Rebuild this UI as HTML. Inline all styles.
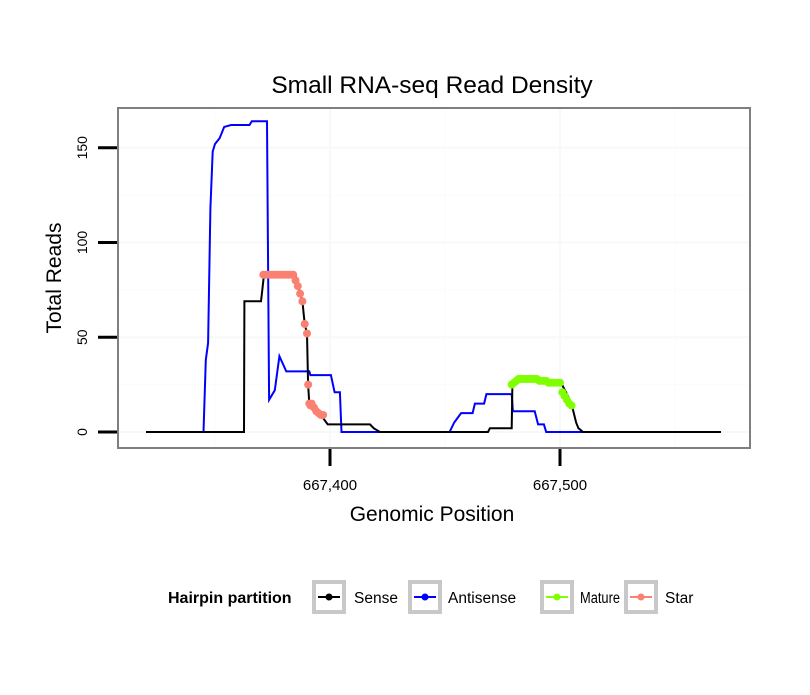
<!DOCTYPE html>
<html><head><meta charset="utf-8"><style>
body{margin:0;background:#fff;}
svg{font-family:"Liberation Sans",Arial,sans-serif;}
</style></head><body>
<svg id="chart" width="810" height="690" viewBox="0 0 810 690">
<text x="432" y="93" text-anchor="middle" font-size="24.5">Small RNA-seq Read Density</text>
<rect x="118" y="108" width="632" height="340" fill="#fff" stroke="#7f7f7f" stroke-width="2"/>
<g id="grid"></g>
<g id="series"></g>
<g id="axes"></g>
<text x="432" y="521" text-anchor="middle" font-size="21">Genomic Position</text>
<text transform="translate(61,278) rotate(-90)" text-anchor="middle" font-size="21">Total Reads</text>
<g>
<text x="168" y="603" font-size="16" font-weight="bold">Hairpin partition</text>
<g><rect x="314" y="582" width="30" height="30" fill="#fff" stroke="#c8c8c8" stroke-width="4"/><line x1="318" y1="597" x2="340" y2="597" stroke="#000" stroke-width="2"/><circle cx="329" cy="597" r="3.5" fill="#000"/><text x="354" y="603" font-size="15.5">Sense</text></g>
<g><rect x="410" y="582" width="30" height="30" fill="#fff" stroke="#c8c8c8" stroke-width="4"/><line x1="414" y1="597" x2="436" y2="597" stroke="#0000ff" stroke-width="2"/><circle cx="425" cy="597" r="3.5" fill="#0000ff"/><text x="448" y="603" font-size="15.5">Antisense</text></g>
<g><rect x="542" y="582" width="30" height="30" fill="#fff" stroke="#c8c8c8" stroke-width="4"/><line x1="546" y1="597" x2="568" y2="597" stroke="#7fff00" stroke-width="2"/><circle cx="557" cy="597" r="3.5" fill="#7fff00"/><text x="580" y="603" font-size="15.5" textLength="40" lengthAdjust="spacingAndGlyphs">Mature</text></g>
<g><rect x="626" y="582" width="30" height="30" fill="#fff" stroke="#c8c8c8" stroke-width="4"/><line x1="630" y1="597" x2="652" y2="597" stroke="#fa8072" stroke-width="2"/><circle cx="641" cy="597" r="3.5" fill="#fa8072"/><text x="665" y="603" font-size="15.5">Star</text></g>
</g>
</svg>
<script>
const BASE = 667400;
const senseX = [-80,-37.4,-37.2,-30,-29.5,-28.7,-15,-13,-12,-11,-10,-9.5,-9,-8,-7,-6,-4,-1,17.4,19,21.7,68.7,69.5,79,79.3,80,90,100,103,105,106,107,108,110,170];
const senseY = [0,0,69,69,74,83,83,73,69,57,52,25,15,15,13,11,9,4,4,2,0,0,2,2,25,26,28,27,20,15,10,5,2,0,0];
const antiX = [-80,-55,-54,-53,-52,-51,-50,-48,-46,-43,-35,-34,-27.4,-26.5,-24,-22,-19,-9,-8.5,0.4,2,4.3,5,52,54,57,62,63,67,68,79,79.5,89,90.5,93,94,110];
const antiY = [0,0,38,47,118,148,152,155,161,162,162,164,164,17,22,40,32,32,30,30,21,21,0,0,5,10,10,15,15,20,20,11,11,4,4,0,0];
const matureX = [79,80,81,82,83,84,85,86,87,88,89,90,91,92,93,94,95,96,97,98,99,100,101,102,103,104,105];
const matureY = [25,26,27,28,28,28,28,28,28,28,28,28,27,27,27,27,26,26,26,26,26,26,21,19,17,15,14];
const starX = [-29,-28,-27,-26,-25,-24,-23,-22,-21,-20,-19,-18,-17,-16,-15,-14,-13,-12,-11,-10,-9.5,-9,-8.5,-8,-7,-6,-5,-4,-3];
const starY = [83,83,83,83,83,83,83,83,83,83,83,83,83,83,80,77,73,69,57,52,25,15,14,15,13,11,10,9,9];
const yTicks = [0,50,100,150];
const xTicks = [667400,667500];
const xTickLabels = ["667,400","667,500"];

const NS="http://www.w3.org/2000/svg";
const sx = p => 330 + p*2.3;
const sxAbs = g => sx(g-BASE);
const sy = v => 432 - v*1.895;
function mk(tag, attrs, parent){const e=document.createElementNS(NS,tag);for(const k in attrs)e.setAttribute(k,attrs[k]);parent.appendChild(e);return e;}
const grid=document.getElementById('grid'), series=document.getElementById('series'), axes=document.getElementById('axes');
[25,75,125].forEach(v=>{const l=mk('line',{x1:119,x2:749,y1:sy(v),y2:sy(v),stroke:'#fbfbfb','stroke-width':1},grid);

});
yTicks.forEach(v=>{const l=mk('line',{x1:119,x2:749,y1:sy(v),y2:sy(v),stroke:'#f8f8f8','stroke-width':2},grid);

});
[667350,667450,667550].forEach(g=>{const l=mk('line',{x1:sxAbs(g),x2:sxAbs(g),y1:109,y2:447,stroke:'#fbfbfb','stroke-width':1},grid);

});
xTicks.forEach(g=>{const l=mk('line',{x1:sxAbs(g),x2:sxAbs(g),y1:109,y2:447,stroke:'#f8f8f8','stroke-width':2},grid);

});
function line(xs,ys,color,name){const d=xs.map((x,i)=>(i?'L':'M')+sx(x).toFixed(1)+','+sy(ys[i]).toFixed(1)).join(' ');
const p=mk('path',{d:d,fill:'none',stroke:color,'stroke-width':2},series);

}
function pts(xs,ys,color,name){xs.forEach((x,i)=>{const c=mk('circle',{cx:sx(x),cy:sy(ys[i]),r:4,fill:color},series);

});}
line(antiX,antiY,'#0000ff','antisense-line');
line(senseX,senseY,'#000000','sense-line');
pts(matureX,matureY,'#7fff00','mature-point');
pts(starX,starY,'#fa8072','star-point');
yTicks.forEach(v=>{const t=mk('line',{x1:98,x2:117,y1:sy(v),y2:sy(v),stroke:'#000','stroke-width':3},axes);


const tx=mk('text',{transform:`translate(87,${sy(v)}) rotate(-90)`,'text-anchor':'middle','font-size':14},axes);tx.textContent=v;

});
xTicks.forEach((g,i)=>{const t=mk('line',{x1:sxAbs(g),x2:sxAbs(g),y1:449,y2:466,stroke:'#000','stroke-width':3},axes);


const tx=mk('text',{x:sxAbs(g),y:490,'text-anchor':'middle','font-size':15},axes);tx.textContent=xTickLabels[i];

});
</script>
</body></html>
